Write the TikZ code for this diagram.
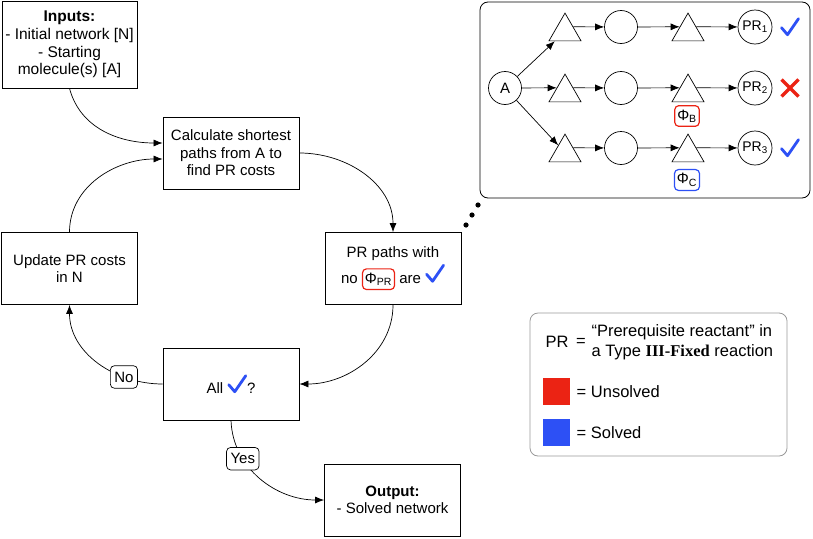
\documentclass[tikz,border=0pt]{standalone}
\usepackage{fontspec}
\setmainfont{Liberation Sans}
\newfontfamily\serifbold{Liberation Serif}
\usetikzlibrary{arrows.meta,shapes.geometric,positioning}
\definecolor{okblue}{RGB}{45,80,245}
\definecolor{badred}{RGB}{235,35,20}
\newcommand{\tick}{\tikz[baseline=-2pt]\draw[okblue, line width=2.8pt, line cap=round, line join=round] (0,7) -- (6,0) -- (17,16);}
\newcommand{\cross}{\tikz\draw[badred, line width=3.4pt] (0,0) -- (17,17) (0,17) -- (17,0);}
\newcommand{\phibox}[2]{\tikz[baseline=(phi.base)]\node[draw=#1, line width=1.2pt, rounded corners=4pt, inner xsep=2.5pt, inner ysep=4pt, minimum width=0pt, minimum height=0pt] (phi) {Φ\textsubscript{#2}};}
\tikzset{
  every picture/.style={x=1pt, y=1pt},
  box/.style={draw, line width=0.8pt, minimum width=136pt, minimum height=72pt, align=center, font=\fontsize{15}{17.5}\selectfont},
  arr/.style={-{Latex[length=9pt,width=7pt]}, line width=0.7pt},
  lbl/.style={draw, fill=white, rounded corners=4pt, inner xsep=4pt, inner ysep=6pt, font=\fontsize{15}{17}\selectfont},
  dot/.style={circle, draw, line width=0.7pt, minimum size=33pt, inner sep=0pt, font=\fontsize{15}{17}\selectfont},
  tri/.style={regular polygon, regular polygon sides=3, draw, line width=0.7pt, minimum size=37pt, inner sep=0pt},
  phi/.style={draw=#1, line width=1.2pt, rounded corners=4pt, inner xsep=2.5pt, inner ysep=4pt, font=\fontsize{15}{17}\selectfont},
  key/.style={font=\fontsize{16.5}{20}\selectfont}
}

\begin{document}
\begin{tikzpicture}
  \useasboundingbox (0,0) rectangle (813,-538);

  % flow chart
  \node [box, minimum width=135pt, minimum height=87pt, font=\fontsize{15.5}{17.7}\selectfont] (inputs) at (69.5,-44.5)
    {\textbf{Inputs:}\\- Initial network [N]\\- Starting\\molecule(s) [A]};
  \node [box] (calc) at (231,-153) {Calculate shortest\\paths from A to\\find PR costs};
  \node [box] (prpath) at (393,-268.5) {PR paths with\\[2pt]no \phibox{badred}{PR} are \tick};
  \node [box] (update) at (69.5,-268.5) {Update PR costs\\in N};
  \node [box] (all) at (231,-384) {All \tick?};
  \node [box] (output) at (392.5,-500) {\textbf{Output:}\\- Solved network};

  \draw [arr] (inputs.south) to[out=-75, in=180] ([yshift=10pt]calc.west);
  \draw [arr] (update.north) to[out=90, in=180] ([yshift=-6pt]calc.west);
  \draw [arr] (calc.east) to[out=0, in=90] (prpath.north);
  \draw [arr] (prpath.south) to[out=-90, in=0] (all.east);
  \draw [arr] (all.west) to[out=180, in=-90] node [lbl, pos=.28] {No} (update.south);
  \draw [arr] (all.south) to[out=-88, in=180] node [lbl, pos=.3] {Yes} (output.west);

  \foreach \i in {0,1,2}
    \fill ({478-6*\i},{-205-10*\i}) circle (2.6pt);

  % example network
  \node [draw, line width=0.8pt, rounded corners=8pt, minimum width=330pt, minimum height=196pt] (panel) at (645,-100) {};
  \node [dot] (A) at (505,-88) {A};
  \foreach \r/\y in {1/27,2/88,3/148} {
    \node [tri] (t\r1) at (565,{-\y-4.6}) {};
    \node [dot] (c\r2) at (621,-\y) {};
    \node [tri] (t\r3) at (688,{-\y-4.6}) {};
    \node [dot, minimum size=34pt, font=\fontsize{14}{16}\selectfont] (pr\r) at (755,-\y) {PR\textsubscript{\r}};
    \draw [arr] (t\r1.side 3) -- (c\r2);
    \draw [arr] (c\r2) -- (t\r3.side 1);
    \draw [arr] (t\r3.side 3) -- (pr\r);
  }
  \draw [arr] (A) -- (t11);
  \draw [arr] (A) -- (t21.side 1);
  \draw [arr] (A) -- (t31);
  \node [inner sep=0pt] (mark1) at (790,-27) {\tick};
  \node [inner sep=0pt] (mark2) at (790,-88) {\cross};
  \node [inner sep=0pt] (mark3) at (790,-148) {\tick};
  \node [phi=badred] (phiB) at (687,-116) {Φ\textsubscript{B}};
  \node [phi=okblue] (phiC) at (687,-180) {Φ\textsubscript{C}};

  % legend
  \node [draw=gray!80, line width=0.8pt, rounded corners=8pt, minimum width=257pt, minimum height=143pt] (legend) at (658.5,-384.5) {};
  \node [key] (prkey) at (557,-342) {PR};
  \node [key] (eq) at (581,-342) {=};
  \node [key, anchor=west, align=left] (prdef) at (588,-342)
    {“Prerequisite reactant” in\\a Type {\serifbold\bfseries III-Fixed} reaction};
  \node [fill=badred, minimum size=27pt] (red) at (556.5,-391.5) {};
  \node [key, right=3pt of red] (unsolved) {= Unsolved};
  \node [fill=okblue, minimum size=27pt] (blue) at (556.5,-432.5) {};
  \node [key, right=3pt of blue] (solved) {= Solved};
\end{tikzpicture}
\end{document}
